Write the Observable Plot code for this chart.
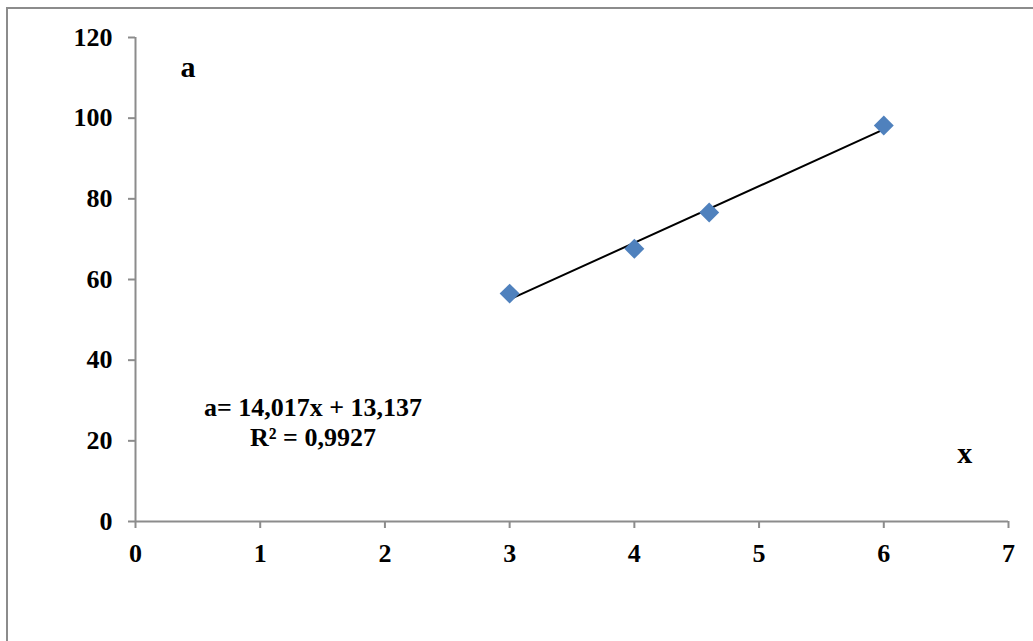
<!DOCTYPE html>
<html>
<head>
<meta charset="utf-8">
<script src="https://cdn.jsdelivr.net/npm/d3@7"></script>
<script src="https://cdn.jsdelivr.net/npm/@observablehq/plot@0.6"></script>
<style>
  html, body { margin: 0; padding: 0; background: white; overflow: hidden; }
  #wrap { position: relative; width: 1033px; height: 641px; }
  #border { position: absolute; left: 6px; top: 7px; width: 1100px; height: 700px;
            border: 2px solid #8c8c8c; pointer-events: none; z-index: 2; }
</style>
</head>
<body>
<div id="wrap"><div id="border"></div></div>
<script>
const xValues = [3, 4, 4.6, 6];
const aValues = [56.5, 67.6, 76.6, 98.2];
const xTicks = [0, 1, 2, 3, 4, 5, 6, 7];
const yTicks = [0, 20, 40, 60, 80, 100, 120];
const equationLines = ["a= 14,017x + 13,137", "R² = 0,9927"];
const yAxisTitle = "a";
const xAxisTitle = "x";

const data = xValues.map((x, i) => ({x, a: aValues[i]}));
const axisGray = "#8c8c8c";

const chart = Plot.plot({
  width: 1033,
  height: 641,
  marginLeft: 135,
  marginRight: 25,
  marginTop: 37,
  marginBottom: 120,
  style: {fontFamily: "'Liberation Serif', 'Times New Roman', serif", fontSize: "26px", fontWeight: "bold", background: "transparent"},
  x: {domain: [0, 7]},
  y: {domain: [0, 120]},
  marks: [
    Plot.ruleY([0], {stroke: axisGray, strokeWidth: 2}),
    Plot.ruleX([0], {stroke: axisGray, strokeWidth: 2}),
    Plot.axisX({ticks: xTicks, tickSize: 7, tickPadding: 15, stroke: axisGray, strokeWidth: 2, fill: "black", label: null, tickFormat: d => String(d)}),
    Plot.axisY({ticks: yTicks, tickSize: 7, tickPadding: 16, stroke: axisGray, strokeWidth: 2, fill: "black", label: null, tickFormat: d => String(d)}),
    Plot.linearRegressionY(data, {x: "x", y: "a", ci: 0, stroke: "black", strokeWidth: 2}),
    Plot.dot(data, {x: "x", y: "a", symbol: "diamond2", r: 9, fill: "#4f81bd", stroke: "none"}),
    Plot.text([yAxisTitle], {x: 0.42, y: 112.6, text: d => d, fontSize: 30, textAnchor: "middle", fill: "black"}),
    Plot.text([xAxisTitle], {x: 6.65, y: 16.8, text: d => d, fontSize: 30, textAnchor: "middle", fill: "black"}),
    Plot.text([equationLines[0]], {x: 1.423, y: 28.1, text: d => d, textAnchor: "middle", fill: "black"}),
    Plot.text([equationLines[1]], {x: 1.423, y: 20.7, text: d => d, textAnchor: "middle", fill: "black"})
  ]
});
chart.style.position = "absolute";
chart.style.left = "0px";
chart.style.top = "0px";
document.getElementById("wrap").appendChild(chart);
</script>
</body>
</html>
